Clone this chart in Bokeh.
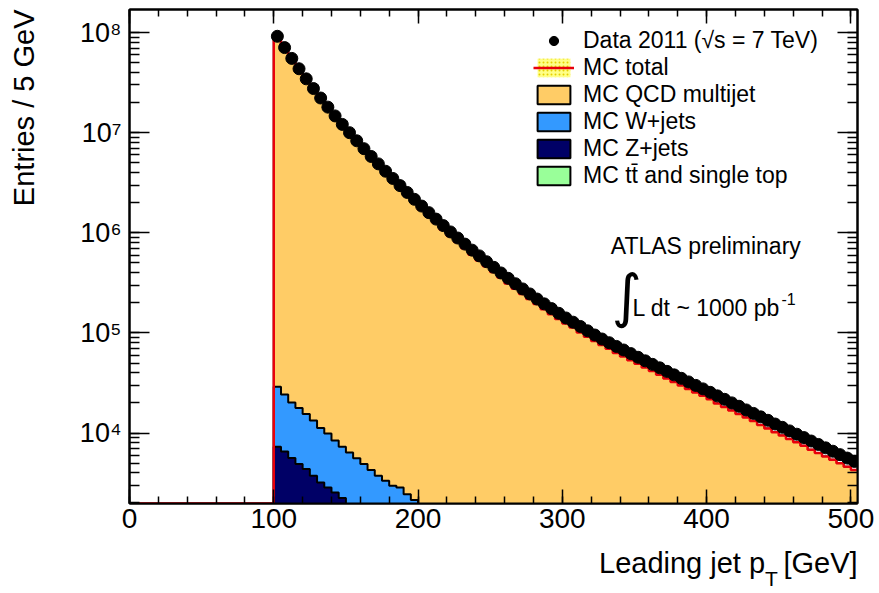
import numpy as np
from bokeh.plotting import figure
from bokeh.models import (Range1d, LinearAxis, LogAxis, SingleIntervalTicker, LogTicker, FixedTicker,
                          Label, Legend, LegendItem, Title)
from bokeh.embed import file_html
from bokeh.resources import INLINE

# ---------------- data ----------------
bin_lo = 100.0
bin_width = 5.0

data_counts = [
    9.18e7, 7.08e7, 5.52e7, 4.35e7, 3.45e7, 2.76e7, 2.22e7, 1.80e7, 1.47e7, 1.21e7,
    1.00e7, 8.30e6, 6.92e6, 5.79e6, 4.88e6, 4.12e6, 3.49e6, 2.96e6, 2.53e6, 2.16e6,
    1.85e6, 1.59e6, 1.37e6, 1.18e6, 1.02e6, 8.87e5, 7.71e5, 6.71e5, 5.88e5, 5.14e5,
    4.52e5, 3.97e5, 3.51e5, 3.10e5, 2.75e5, 2.45e5, 2.18e5, 1.95e5, 1.75e5, 1.57e5,
    1.41e5, 1.28e5, 1.16e5, 1.05e5, 9.53e4, 8.69e4, 7.98e4, 7.33e4, 6.75e4, 6.21e4,
    5.71e4, 5.26e4, 4.85e4, 4.48e4, 4.13e4, 3.81e4, 3.52e4, 3.24e4, 2.99e4, 2.76e4,
    2.55e4, 2.35e4, 2.17e4, 2.00e4, 1.85e4, 1.70e4, 1.57e4, 1.45e4, 1.34e4, 1.23e4,
    1.14e4, 1.05e4, 9.73e3, 9.00e3, 8.32e3, 7.69e3, 7.11e3, 6.58e3, 6.08e3, 5.62e3,
    5.20e3,
]

qcd_counts = [
    9.09e7, 6.94e7, 5.41e7, 4.22e7, 3.35e7, 2.65e7, 2.13e7, 1.73e7, 1.40e7, 1.15e7,
    9.50e6, 7.89e6, 6.50e6, 5.44e6, 4.59e6, 3.87e6, 3.25e6, 2.75e6, 2.35e6, 2.01e6,
    1.70e6, 1.46e6, 1.26e6, 1.07e6, 9.28e5, 8.07e5, 7.02e5, 6.04e5, 5.29e5, 4.63e5,
    4.07e5, 3.57e5, 3.12e5, 2.76e5, 2.45e5, 2.18e5, 1.94e5, 1.72e5, 1.54e5, 1.38e5,
    1.24e5, 1.13e5, 1.01e5, 9.14e4, 8.29e4, 7.56e4, 6.94e4, 6.30e4, 5.81e4, 5.34e4,
    4.91e4, 4.52e4, 4.17e4, 3.81e4, 3.51e4, 3.24e4, 2.99e4, 2.75e4, 2.54e4, 2.35e4,
    2.17e4, 1.97e4, 1.82e4, 1.68e4, 1.55e4, 1.43e4, 1.32e4, 1.20e4, 1.11e4, 1.02e4,
    9.46e3, 8.72e3, 8.08e3, 7.47e3, 6.82e3, 6.31e3, 5.83e3, 5.40e3, 4.99e3, 4.61e3,
    4.26e3,
]

wjets_counts = [21700, 17650, 14580, 12900, 11130, 9560, 8000, 7040, 5850, 5060, 4450,
                3900, 3400, 2970, 2590, 2330, 2070, 2060, 1750, 1520, 1290, 1100]
zjets_counts = [6740, 6010, 5100, 4400, 3890, 3280, 2760, 2440, 2150, 1855, 1580,
                1345, 1160, 975, 840, 705, 620, 530, 440, 370, 320, 270]
top_counts = [560, 540, 520, 500, 480, 460, 440, 420, 400, 385, 370,
              355, 340, 325, 310, 295, 280, 270, 260, 250, 240, 230]

y_decades = [4, 5, 6, 7, 8]
y_tick_labels = ["10\u2074", "10\u2075", "10\u2076", "10\u2077", "10\u2078"]

legend_labels = ["Data 2011 (\u221as = 7 TeV)", "MC total", "MC QCD multijet",
                 "MC W+jets", "MC Z+jets", "MC t\u0074\u0304 and single top"]

x_title_parts = ["Leading jet p", "[GeV]"]
x_title_sub = "T"
y_title = "Entries / 5 GeV"

# ---------------- derived arrays ----------------
Y_MIN, Y_MAX = 1977.0, 1.70e8
X_MIN, X_MAX = 0.0, 504.6

n = len(data_counts)
edges = bin_lo + bin_width * np.arange(n + 1)
centers = edges[:-1] + bin_width / 2

def pad(a):
    out = np.zeros(n)
    out[:len(a)] = a
    return out

top_a = pad(top_counts)
z_a = pad(zjets_counts)
w_a = pad(wjets_counts)
qcd_a = np.array(qcd_counts)
total = qcd_a + w_a + z_a + top_a

m = len(wjets_counts)
stack_top = np.array(top_counts, dtype=float)
stack_z = stack_top + np.array(zjets_counts)
stack_w = stack_z + np.array(wjets_counts)

def stepvals(v):
    v = list(v)
    return v + [v[-1]]

C_QCD = "#ffcc66"
C_W = "#3399ff"
C_Z = "#000066"
C_TOP = "#99ff99"
C_RED = "#e8000b"
FONT = "Liberation Sans"

p = figure(width=879, height=593, x_range=Range1d(X_MIN, X_MAX),
           y_range=Range1d(Y_MIN, Y_MAX), y_axis_type="log",
           output_backend="svg", toolbar_location=None,
           min_border_left=129, min_border_right=22, min_border_top=9, min_border_bottom=90)
p.background_fill_color = "white"
p.border_fill_color = "white"
p.outline_line_color = "black"
p.outline_line_width = 2
p.xgrid.visible = False
p.ygrid.visible = False

lo, hi = edges[:-1], edges[1:]
lo_m, hi_m = lo[:m], hi[:m]

# histogram bins (with black borders, used for the legend boxes)
band_r = p.quad(left=lo, right=hi, bottom=total, top=total, fill_color="#ffff88",
                hatch_pattern="dot", hatch_color="#e6d000", hatch_scale=4, line_color=None)
qcd_q = p.quad(left=lo, right=hi, bottom=[Y_MIN] * n, top=total, fill_color=C_QCD,
               line_color="black", line_width=2)
w_q = p.quad(left=lo_m, right=hi_m, bottom=[Y_MIN] * m, top=stack_w, fill_color=C_W,
             line_color="black", line_width=2)
z_q = p.quad(left=lo_m, right=hi_m, bottom=[Y_MIN] * m, top=stack_z, fill_color=C_Z,
             line_color="black", line_width=2)
top_q = p.quad(left=lo_m, right=hi_m, bottom=[1.0] * m, top=stack_top, fill_color=C_TOP,
               line_color="black", line_width=2)

# seamless filled stack over the bins (hides inner bin borders)
p.varea_step(x=edges, y1=[Y_MIN] * (n + 1), y2=stepvals(total), step_mode="after", fill_color=C_QCD)
e_m = edges[:m + 1]
p.varea_step(x=e_m, y1=[Y_MIN] * (m + 1), y2=stepvals(stack_w), step_mode="after", fill_color=C_W)
p.varea_step(x=e_m, y1=[Y_MIN] * (m + 1), y2=stepvals(stack_z), step_mode="after", fill_color=C_Z)

# outlines
p.step(x=e_m, y=stepvals(stack_w), mode="after", line_color="black", line_width=2)
p.step(x=e_m, y=stepvals(stack_z), mode="after", line_color="black", line_width=2)
red_x = [X_MIN] + list(edges)
red_y = [Y_MIN] + stepvals(total)
red_r = p.step(x=red_x, y=red_y, mode="after", line_color=C_RED, line_width=2.5)

data_r = p.scatter(x=centers, y=data_counts, size=12, fill_color="black", line_color="black")

legend = Legend(items=[
    LegendItem(label=legend_labels[0], renderers=[data_r]),
    LegendItem(label=legend_labels[1], renderers=[band_r, red_r]),
    LegendItem(label=legend_labels[2], renderers=[qcd_q]),
    LegendItem(label=legend_labels[3], renderers=[w_q]),
    LegendItem(label=legend_labels[4], renderers=[z_q]),
    LegendItem(label=legend_labels[5], renderers=[top_q]),
], location=(404, 314), orientation="vertical", glyph_width=41, glyph_height=23,
    label_standoff=9, spacing=0, padding=0, margin=0, label_height=26,
    label_text_font=FONT, label_text_font_size="23px", label_text_color="black",
    border_line_color=None, background_fill_alpha=0)
p.add_layout(legend)

# ---------------- axes ----------------
xa = p.xaxis[0]
xa.ticker = SingleIntervalTicker(interval=100, num_minor_ticks=5)
xa.major_tick_in = 14
xa.major_tick_out = 0
xa.minor_tick_in = 7
xa.minor_tick_out = 0
xa.axis_line_width = 2
xa.major_tick_line_width = 1.5
xa.minor_tick_line_width = 1.5
xa.major_label_text_font = FONT
xa.major_label_text_font_size = "28px"
xa.major_label_text_color = "black"
xa.major_label_standoff = 5

# x title, made of two label-only axes below the main one
t_main = [383, 479]
xa_title = LinearAxis(ticker=FixedTicker(ticks=t_main),
                      major_label_overrides={t_main[0]: x_title_parts[0], t_main[1]: x_title_parts[1]},
                      axis_line_color=None, major_tick_line_color=None, minor_tick_line_color=None,
                      major_tick_in=0, major_tick_out=0, minor_tick_in=0, minor_tick_out=0,
                      major_label_standoff=16, major_label_text_font=FONT,
                      major_label_text_font_size="29px", major_label_text_color="black")
p.add_layout(xa_title, "below")
t_sub = [445]
xa_sub = LinearAxis(ticker=FixedTicker(ticks=t_sub),
                    major_label_overrides={t_sub[0]: x_title_sub},
                    axis_line_color=None, major_tick_line_color=None, minor_tick_line_color=None,
                    major_tick_in=0, major_tick_out=0, minor_tick_in=0, minor_tick_out=0,
                    major_label_standoff=-15, major_label_text_font=FONT,
                    major_label_text_font_size="21px", major_label_text_color="black")
p.add_layout(xa_sub, "below")

ya = p.yaxis[0]
ya.ticker = LogTicker(num_minor_ticks=10)
ya.major_tick_in = 20
ya.major_tick_out = 0
ya.minor_tick_in = 10
ya.minor_tick_out = 0
ya.axis_line_width = 2
ya.major_tick_line_width = 1.5
ya.minor_tick_line_width = 1.5
ya.major_label_overrides = {10 ** d: lab for d, lab in zip(y_decades, y_tick_labels)}
ya.major_label_text_font = FONT
ya.major_label_text_font_size = "27px"
ya.major_label_text_color = "black"
ya.major_label_standoff = 8
# blank axis label used only as a spacer between tick labels and the title
ya.axis_label = " "
ya.axis_label_text_font_size = "1px"
ya.axis_label_standoff = 30

# y title, right-aligned to the top of the frame
p.add_layout(Title(text=y_title, align="right", vertical_align="top", standoff=1,
                   text_font=FONT, text_font_size="29px", text_font_style="normal",
                   text_color="black"), "left")

xa_top = LinearAxis(ticker=SingleIntervalTicker(interval=100, num_minor_ticks=5),
                    major_tick_in=14, major_tick_out=0, minor_tick_in=7, minor_tick_out=0,
                    axis_line_width=2, major_tick_line_width=1.5, minor_tick_line_width=1.5,
                    major_label_text_font_size="1px", major_label_text_alpha=0,
                    major_label_standoff=0)
p.add_layout(xa_top, "above")
ya_right = LogAxis(ticker=LogTicker(num_minor_ticks=10),
                   major_tick_in=20, major_tick_out=0, minor_tick_in=10, minor_tick_out=0,
                   axis_line_width=2, major_tick_line_width=1.5, minor_tick_line_width=1.5,
                   major_label_text_font_size="1px", major_label_text_alpha=0,
                   major_label_standoff=0)
p.add_layout(ya_right, "right")

# annotations inside the frame
p.add_layout(Label(x=481.3, y=257.7, x_units="screen", y_units="screen", text="ATLAS preliminary",
                   text_align="left", text_baseline="alphabetic",
                   text_font=FONT, text_font_size="23px", text_color="black"))
p.add_layout(Label(x=482, y=208, x_units="screen", y_units="screen", text="\u222b",
                   text_align="left", text_baseline="middle",
                   text_font="DejaVu Sans", text_font_size="58px", text_color="black"))
p.add_layout(Label(x=503, y=195.4, x_units="screen", y_units="screen", text="L dt ~ 1000 pb",
                   text_align="left", text_baseline="alphabetic",
                   text_font=FONT, text_font_size="23px", text_color="black"))
p.add_layout(Label(x=652, y=204.7, x_units="screen", y_units="screen", text="-1",
                   text_align="left", text_baseline="alphabetic",
                   text_font=FONT, text_font_size="16px", text_color="black"))

open("out.html", "w").write(file_html(p, INLINE))
